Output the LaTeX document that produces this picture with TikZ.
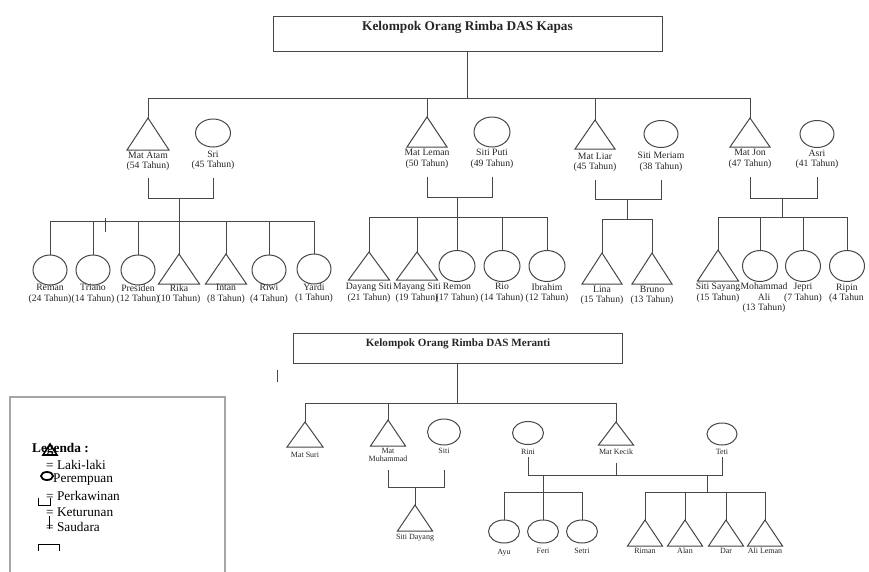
\documentclass[tikz,border=0pt]{standalone}
\usepackage{fontspec}
\setmainfont{Liberation Serif}
\usetikzlibrary{shapes.geometric}
\newcommand\maleat[5]{\coordinate (#1) at (#2,#3);
  \draw[ln] (#1) -- ++({-(#4)/2},#5) -- ++(#4,0) -- cycle;}
\begin{document}
\begin{tikzpicture}[x=1pt,y=-1pt,
  ln/.style={draw=black!72, line width=1pt},
  fem/.style 2 args={ellipse, draw=black!72, line width=1pt, inner sep=0pt,
    minimum width=#1, minimum height=#2},
  box/.style={rectangle, draw=black!72, line width=1pt, inner sep=0pt},
  lbl/.style={font=\fontsize{9.7}{10.5}\selectfont, align=center, inner sep=0pt, text=black!85},
  lbls/.style={font=\fontsize{8}{8.5}\selectfont, align=center, inner sep=0pt, text=black!85},
  ttl/.style={font=\fontsize{13.3}{15}\selectfont\bfseries, inner sep=0pt, text=black!85},
  ttls/.style={font=\fontsize{11.1}{12}\selectfont\bfseries, inner sep=0pt, text=black!85},
  leg/.style={font=\fontsize{13.3}{15}\selectfont, inner sep=0pt, anchor=west},
  legmark/.style={draw=black, line width=1.6pt},
]
\useasboundingbox (0,0) rectangle (869,571);
\fill[white] (0,0) rectangle (869,571);

% ================= DAS Kapas =================
\node[box, minimum width=389pt, minimum height=35pt] (t1) at (467.5,33.5) {};
\node[ttl] (t1txt) at (467.5,27) {Kelompok Orang Rimba DAS Kapas};
\coordinate (b1) at (467.5,98);
\draw[ln] (t1.south) -- (b1);

\maleat{mAtam}{148}{118}{42}{32}
\node[fem={35pt}{28pt}] (sri) at (213,133) {};
\maleat{mLeman}{427}{117}{40}{30}
\node[fem={36pt}{30pt}] (sPuti) at (492,132) {};
\maleat{mLiar}{595}{120}{40}{29}
\node[fem={34pt}{27pt}] (sMeriam) at (661,134) {};
\maleat{mJon}{750}{118}{40}{29}
\node[fem={34pt}{27pt}] (asri) at (817,134) {};

\draw[ln] (mAtam) -- (mAtam |- b1) -- (mJon |- b1) -- (mJon);
\draw[ln] (mLeman |- b1) -- (mLeman);
\draw[ln] (mLiar |- b1) -- (mLiar);

\node[lbl] (lAtam) at (148,161.5) {Mat Atam\\(54 Tahun)};
\node[lbl] (lSri) at (213,160.5) {Sri\\(45 Tahun)};
\node[lbl] (lLeman) at (427,159) {Mat Leman\\(50 Tahun)};
\node[lbl] (lPuti) at (492,159) {Siti Puti\\(49 Tahun)};
\node[lbl] (lLiar) at (595,162.5) {Mat Liar\\(45 Tahun)};
\node[lbl] (lMeriam) at (661,162) {Siti Meriam\\(38 Tahun)};
\node[lbl] (lJon) at (750,159) {Mat Jon\\(47 Tahun)};
\node[lbl] (lAsri) at (817,159.5) {Asri\\(41 Tahun)};

% --- Mat Atam family
\coordinate (mb1) at (179,198);
\coordinate (cb1) at (179,221);
\draw[ln] (mAtam |- 0,178) -- (mAtam |- mb1) -- (sri |- mb1) -- (sri |- 0,178);
\draw[ln] (mb1) -- (cb1);
\node[fem={34pt}{30pt}] (reman) at (50,270) {};
\node[fem={34pt}{30pt}] (triano) at (93,270) {};
\node[fem={34pt}{30pt}] (presiden) at (138,270) {};
\maleat{rika}{179}{254}{41}{30}
\maleat{intan}{226}{254}{41}{30}
\node[fem={34pt}{30pt}] (riwi) at (269,270) {};
\node[fem={34pt}{30pt}] (yardi) at (314,269) {};
\draw[ln] (reman.north) -- (reman |- cb1) -- (yardi |- cb1) -- (yardi.north);
\draw[ln] (triano |- cb1) -- (triano.north);
\draw[ln] (presiden |- cb1) -- (presiden.north);
\draw[ln] (cb1) -- (rika);
\draw[ln] (intan |- cb1) -- (intan);
\draw[ln] (riwi |- cb1) -- (riwi.north);
\draw[ln] (105,218) -- (105,232);
\node[lbl] at (50,294) {Reman\\(24 Tahun)};
\node[lbl] at (93,294) {Triano\\(14 Tahun)};
\node[lbl] at (138,294) {Presiden\\(12 Tahun)};
\node[lbl] at (179,294) {Rika\\(10 Tahun)};
\node[lbl] at (226,294) {Intan\\(8 Tahun)};
\node[lbl] at (269,294) {Riwi\\(4 Tahun)};
\node[lbl] at (314,293) {Yardi\\(1 Tahun)};

% --- Mat Leman family
\coordinate (mb2) at (457,197);
\coordinate (cb2) at (457,217);
\draw[ln] (mLeman |- 0,177) -- (mLeman |- mb2) -- (sPuti |- mb2) -- (sPuti |- 0,177);
\draw[ln] (mb2) -- (cb2);
\maleat{dayang}{369}{252}{41}{28}
\maleat{mayang}{417}{252}{41}{28}
\node[fem={36pt}{31pt}] (remon) at (457,266) {};
\node[fem={36pt}{31pt}] (rio) at (502,266) {};
\node[fem={36pt}{31pt}] (ibrahim) at (547,266) {};
\draw[ln] (dayang) -- (dayang |- cb2) -- (ibrahim |- cb2) -- (ibrahim.north);
\draw[ln] (mayang |- cb2) -- (mayang);
\draw[ln] (cb2) -- (remon.north);
\draw[ln] (rio |- cb2) -- (rio.north);
\node[lbl] at (369,293) {Dayang Siti\\(21 Tahun)};
\node[lbl] at (417,293) {Mayang Siti\\(19 Tahun)};
\node[lbl] at (457,293) {Remon\\(17 Tahun)};
\node[lbl] at (502,293) {Rio\\(14 Tahun)};
\node[lbl] at (547,293) {Ibrahim\\(12 Tahun)};

% --- Mat Liar family
\coordinate (mb3) at (627,199);
\coordinate (cb3) at (627,219);
\draw[ln] (mLiar |- 0,180) -- (mLiar |- mb3) -- (sMeriam |- mb3) -- (sMeriam |- 0,180);
\draw[ln] (mb3) -- (cb3);
\maleat{lina}{602}{253}{40}{31}
\maleat{bruno}{652}{253}{40}{31}
\draw[ln] (lina) -- (lina |- cb3) -- (bruno |- cb3) -- (bruno);
\node[lbl] at (602,295.5) {Lina\\(15 Tahun)};
\node[lbl] at (652,295.5) {Bruno\\(13 Tahun)};

% --- Mat Jon family
\coordinate (mb4) at (782,198);
\coordinate (cb4) at (782,217);
\draw[ln] (mJon |- 0,177) -- (mJon |- mb4) -- (asri |- mb4) -- (asri |- 0,177);
\draw[ln] (mb4) -- (cb4);
\maleat{sayang}{718}{250}{41}{31}
\node[fem={35pt}{31pt}] (mali) at (760,266) {};
\node[fem={35pt}{31pt}] (jepri) at (803,266) {};
\node[fem={35pt}{31pt}] (ripin) at (847,266) {};
\draw[ln] (sayang) -- (sayang |- cb4) -- (ripin |- cb4) -- (ripin.north);
\draw[ln] (mali |- cb4) -- (mali.north);
\draw[ln] (jepri |- cb4) -- (jepri.north);
\node[lbl] at (718,293) {Siti Sayang\\(15 Tahun)};
\node[lbl] at (764,298) {Mohammad\\Ali\\(13 Tahun)};
\node[lbl] at (803,293) {Jepri\\(7 Tahun)};
\node[lbl] at (847,288) {Ripin};
\node[lbl, anchor=west] at (829,298) {(4 Tahun};

% ================= DAS Meranti =================
\node[box, minimum width=329pt, minimum height=30pt] (t2) at (457.5,348) {};
\node[ttls] (t2txt) at (458,344) {Kelompok Orang Rimba DAS Meranti};
\coordinate (b2) at (457.5,403);
\draw[ln] (t2.south) -- (b2);
\draw[ln] (277,370) -- (277,382);

\maleat{mSuri}{305}{422}{36}{25}
\maleat{mMuh}{388}{420}{35}{26}
\node[fem={33pt}{26pt}] (siti) at (444,432) {};
\node[fem={31pt}{23pt}] (rini) at (528,433) {};
\maleat{mKecik}{616}{422}{35}{23}
\node[fem={30pt}{22pt}] (teti) at (722,434) {};
\draw[ln] (mSuri) -- (mSuri |- b2) -- (mKecik |- b2) -- (mKecik);
\draw[ln] (mMuh |- b2) -- (mMuh);

\node[lbls] at (305,455) {Mat Suri};
\node[lbls] at (388,455) {Mat\\Muhammad};
\node[lbls] at (444,451) {Siti};
\node[lbls] at (528,452) {Rini};
\node[lbls] at (616,452) {Mat Kecik};
\node[lbls] at (722,452) {Teti};

% Mat Muhammad + Siti
\coordinate (mb5) at (415,487);
\draw[ln] (mMuh |- 0,470) -- (mMuh |- mb5) -- (siti |- mb5) -- (siti |- 0,470);
\maleat{sDayang}{415}{505}{35}{26}
\draw[ln] (mb5) -- (sDayang);
\node[lbls] at (415,538) {Siti Dayang};

% Rini + Mat Kecik + Teti
\coordinate (mb6) at (543,475);
\coordinate (mb7) at (707,475);
\draw[ln] (rini |- 0,457) -- (rini |- mb6) -- (teti |- mb6) -- (teti |- 0,457);
\draw[ln] (mKecik |- 0,463) -- (mKecik |- mb6);

\node[fem={31pt}{23pt}] (ayu) at (504,531.5) {};
\node[fem={31pt}{23pt}] (feri) at (543,531.5) {};
\node[fem={31pt}{23pt}] (setri) at (582,531.5) {};
\coordinate (cb6) at (543,492);
\draw[ln] (mb6) -- (feri.north);
\draw[ln] (ayu.north) -- (ayu |- cb6) -- (setri |- cb6) -- (setri.north);
\node[lbls] at (504,553) {Ayu};
\node[lbls] at (543,551) {Feri};
\node[lbls] at (582,551) {Setri};

\coordinate (cb7) at (707,492);
\draw[ln] (mb7) -- (cb7);
\maleat{riman}{645}{520}{35}{26}
\maleat{alan}{685}{520}{35}{26}
\maleat{dar}{726}{520}{35}{26}
\maleat{alileman}{765}{520}{35}{26}
\draw[ln] (riman) -- (riman |- cb7) -- (alileman |- cb7) -- (alileman);
\draw[ln] (alan |- cb7) -- (alan);
\draw[ln] (dar |- cb7) -- (dar);
\node[lbls] at (645,551) {Riman};
\node[lbls] at (685,551) {Alan};
\node[lbls] at (726,551) {Dar};
\node[lbls] at (765,551) {Ali Leman};

% ================= Legend =================
\draw[draw=black!35, line width=2pt] (10,575) -- (10,397) -- (225,397) -- (225,575);
\node[leg, font=\fontsize{13.3}{15}\selectfont\bfseries] (legtitle) at (32,449) {Legenda :};
\draw[legmark] (50,444) -- (43,455) -- (57,455) -- cycle;
\node[leg] (l1) at (46,465) {= Laki-laki};
\node[ellipse, draw=black, line width=1.8pt, minimum width=12pt, minimum height=8pt, inner sep=0pt] (lc) at (47,476) {};
\node[leg] (l2) at (53,480) {Perempuan};
\node[leg] (l3) at (46,496) {= Perkawinan};
\draw[draw=black, line width=1pt] (38,498) -- (38,505) -- (50,505) -- (50,498);
\node[leg] (l4) at (46,512) {= Keturunan};
\node[leg] (l5) at (46,527) {= Saudara};
\draw[draw=black, line width=1pt] (49,516) -- (49,529);
\draw[draw=black, line width=1pt] (38,551) -- (38,544) -- (59,544) -- (59,551);
\end{tikzpicture}
\end{document}
